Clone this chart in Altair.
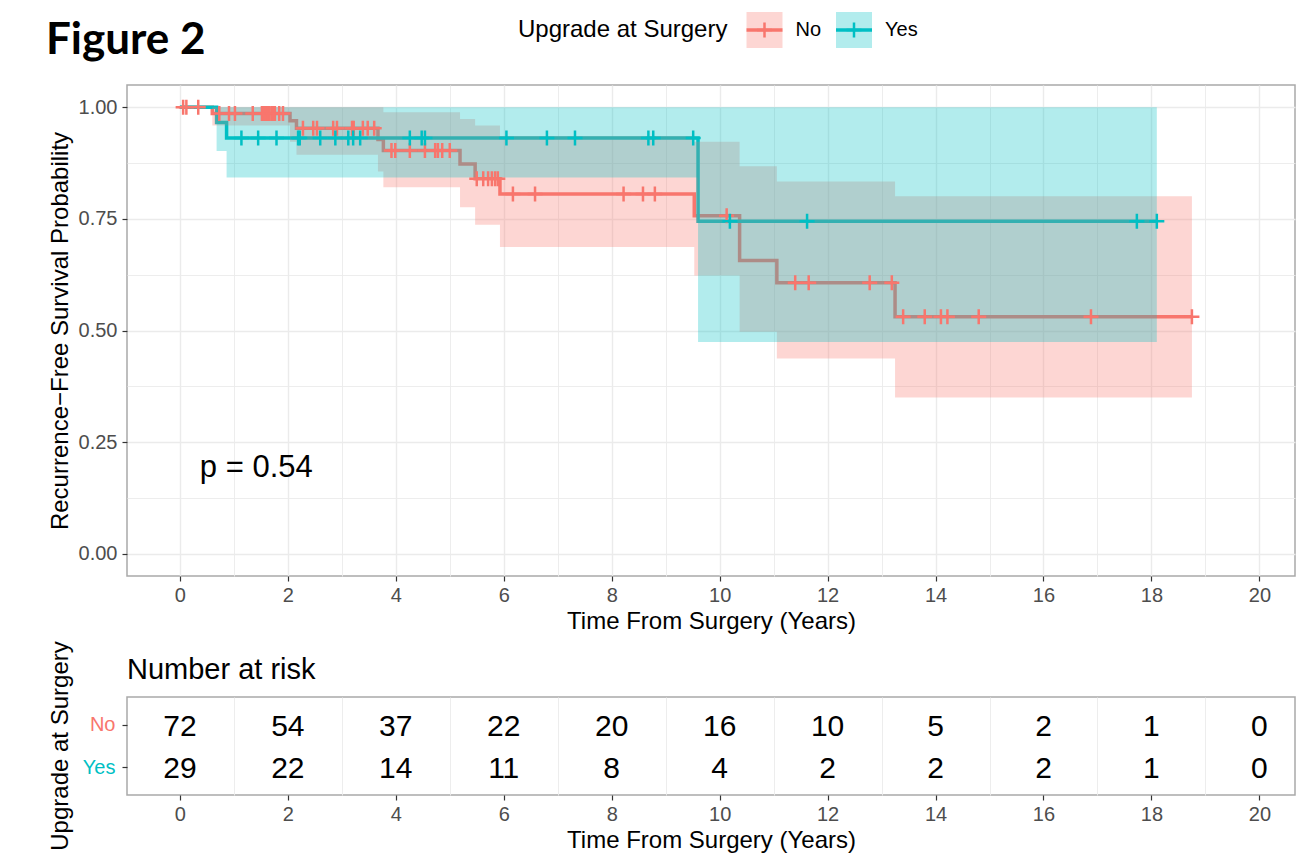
import altair as alt
import pandas as pd

RED = "#F8766D"
TEAL = "#00BFC4"
FONT = "Liberation Sans"

groups = ["No", "Yes"]

# Kaplan-Meier step curve and 95% band, group "No"
no_time = [0.0, 0.60, 2.04, 2.16, 3.67, 3.77, 5.19, 5.47, 5.93, 9.53, 10.37, 11.06, 13.25, 18.75]
no_surv = [1.000, 0.986, 0.970, 0.953, 0.928, 0.903, 0.873, 0.840, 0.806, 0.757, 0.657, 0.607, 0.531, 0.531]
no_lower = [1.000, 0.959, 0.923, 0.894, 0.856, 0.821, 0.776, 0.737, 0.687, 0.623, 0.497, 0.437, 0.350, 0.350]
no_upper = [1.000, 1.000, 1.000, 1.000, 1.000, 0.989, 0.974, 0.959, 0.936, 0.923, 0.868, 0.834, 0.801, 0.801]

# group "Yes"
yes_time = [0.0, 0.68, 0.865, 9.60, 18.10]
yes_surv = [1.000, 0.966, 0.931, 0.745, 0.745]
yes_lower = [1.000, 0.902, 0.843, 0.474, 0.474]
yes_upper = [1.000, 1.000, 1.000, 1.000, 1.000]

# censoring times
no_censor = [0.06, 0.12, 0.34, 0.73, 0.91, 1.02, 1.35, 1.52, 1.56, 1.60, 1.63, 1.66, 1.70,
             1.73, 1.76, 1.84, 1.91, 2.28, 2.47, 2.54, 2.84, 2.91, 3.19, 3.22, 3.39, 3.48,
             3.60, 3.92, 3.99, 4.26, 4.54, 4.73, 4.78, 4.86, 5.00, 5.50, 5.62, 5.71, 5.78,
             5.84, 5.89, 6.17, 6.58, 8.22, 8.58, 8.80, 10.13, 11.40, 11.65, 12.78, 13.19,
             13.40, 13.80, 14.10, 14.22, 14.80, 16.88, 18.75]
yes_censor = [1.14, 1.45, 1.79, 2.19, 2.22, 2.60, 2.88, 3.12, 3.21, 3.34, 4.26, 4.48, 4.54,
              6.05, 6.80, 7.32, 8.68, 8.77, 9.51, 10.19, 11.62, 17.73, 18.10]

# number at risk table
risk_time = [0, 2, 4, 6, 8, 10, 12, 14, 16, 18, 20]
risk_no = [72, 54, 37, 22, 20, 16, 10, 5, 2, 1, 0]
risk_yes = [29, 22, 14, 11, 8, 4, 2, 2, 2, 1, 0]

p_label = "p = 0.54"
figure_title = "Figure 2"
legend_title = "Upgrade at Surgery"
risk_title = "Number at risk"
x_title = "Time From Surgery (Years)"
y_title = "Recurrence\u2212Free Survival Probability"


def value_at(times, values, t):
    v = values[0]
    for ti, vi in zip(times, values):
        if ti <= t + 1e-9:
            v = vi
    return v


curves = pd.concat([
    pd.DataFrame({"group": "No", "t": no_time, "surv": no_surv, "lower": no_lower, "upper": no_upper}),
    pd.DataFrame({"group": "Yes", "t": yes_time, "surv": yes_surv, "lower": yes_lower, "upper": yes_upper}),
], ignore_index=True)

censors = pd.concat([
    pd.DataFrame({"group": "No", "t": no_censor,
                  "surv": [value_at(no_time, no_surv, t) for t in no_censor]}),
    pd.DataFrame({"group": "Yes", "t": yes_censor,
                  "surv": [value_at(yes_time, yes_surv, t) for t in yes_censor]}),
], ignore_index=True)

risk = pd.concat([
    pd.DataFrame({"group": "No", "t": risk_time, "n": risk_no}),
    pd.DataFrame({"group": "Yes", "t": risk_time, "n": risk_yes}),
], ignore_index=True)

xscale = alt.Scale(domain=[-0.98, 20.66], nice=False, zero=False)
yscale = alt.Scale(domain=[-0.05, 1.05], nice=False, zero=False)
cscale = alt.Scale(domain=groups, range=[RED, TEAL])

even = "datum.value % 2 == 0"
quarter = "(datum.value * 4) % 1 == 0"

x_axis_main = alt.Axis(
    values=list(range(21)),
    labelExpr=f"{even} ? datum.label : ''",
    tickOpacity={"condition": {"test": even, "value": 1}, "value": 0},
    gridWidth={"condition": {"test": even, "value": 1.4}, "value": 0.9},
    labelPadding=4, titlePadding=4,
)
y_axis_main = alt.Axis(
    values=[i / 8 for i in range(9)],
    labelExpr=f"{quarter} ? format(datum.value, '.2f') : ''",
    tickOpacity={"condition": {"test": quarter, "value": 1}, "value": 0},
    gridWidth={"condition": {"test": quarter, "value": 1.4}, "value": 0.9},
    labelPadding=5, titlePadding=6,
)

X = alt.X("t:Q", scale=xscale, axis=x_axis_main, title=x_title)
Y = alt.Y("surv:Q", scale=yscale, axis=y_axis_main, title=y_title)
C = alt.Color("group:N", scale=cscale, legend=None)

plus = "M-1,0L1,0M0,-1L0,1"

lines = alt.Chart(curves).mark_line(interpolate="step-after", strokeWidth=3.5).encode(x=X, y=Y, color=C)
bands = alt.Chart(curves).mark_area(interpolate="step-after", opacity=0.3).encode(
    x=X, y=alt.Y("lower:Q", scale=yscale), y2="upper:Q", color=C)
marks = alt.Chart(censors).mark_point(shape=plus, size=225, filled=False, strokeWidth=2.5, opacity=1).encode(
    x=X, y=Y, color=C)

ptext = alt.Chart(pd.DataFrame({"label": [p_label]})).mark_text(
    align="left", baseline="middle", fontSize=31, font=FONT, color="black").encode(
    x=alt.datum(0.37, scale=xscale), y=alt.datum(0.192, scale=yscale), text="label:N")

# header: figure title and legend (placed above the plot area)
hdr_y = -55
title_mark = alt.Chart(pd.DataFrame({"label": [figure_title]})).mark_text(
    align="left", baseline="alphabetic", fontSize=44, font="Lato", fontWeight="bold", color="black").encode(
    x=alt.value(-81), y=alt.value(-31), text="label:N")
leg_title = alt.Chart(pd.DataFrame({"label": [legend_title]})).mark_text(
    align="left", baseline="middle", fontSize=24, font=FONT, color="black").encode(
    x=alt.value(391), y=alt.value(hdr_y), text="label:N")

legend_layers = []
for grp, col, cx in [("No", RED, 637.5), ("Yes", TEAL, 727)]:
    one = pd.DataFrame({"label": [grp]})
    legend_layers += [
        alt.Chart(one).mark_square(size=1296, color=col, opacity=0.3).encode(
            x=alt.value(cx), y=alt.value(hdr_y)),
        alt.Chart(one).mark_rule(color=col, strokeWidth=3.5).encode(
            x=alt.value(cx - 18), x2=alt.value(cx + 18), y=alt.value(hdr_y)),
        alt.Chart(one).mark_point(shape=plus, size=225, filled=False, strokeWidth=2.5,
                                  color=col, opacity=1).encode(x=alt.value(cx), y=alt.value(hdr_y)),
        alt.Chart(one).mark_text(align="left", baseline="middle", fontSize=20, font=FONT,
                                 color="black").encode(x=alt.value(cx + 31), y=alt.value(hdr_y),
                                                       text="label:N"),
    ]

main = alt.layer(lines, bands, marks, ptext, title_mark, leg_title, *legend_layers).properties(
    width=1168, height=491)

# risk table
x_axis_risk = alt.Axis(
    values=list(range(21)),
    labelExpr=f"{even} ? datum.label : ''",
    tickOpacity={"condition": {"test": even, "value": 1}, "value": 0},
    gridOpacity={"condition": {"test": even, "value": 0}, "value": 1},
    gridWidth=0.9, labelPadding=4, titlePadding=4,
)
y_axis_risk = alt.Axis(
    labelColor={"condition": {"test": "datum.value == 'No'", "value": RED}, "value": TEAL},
    labelPadding=7, gridWidth=1.4, title=None,
)
risk_text = alt.Chart(risk).mark_text(fontSize=30, font=FONT, color="black", baseline="middle", dy=2).encode(
    x=alt.X("t:Q", scale=xscale, axis=x_axis_risk, title=x_title),
    y=alt.Y("group:N", scale=alt.Scale(type="point", domain=groups, padding=0.65), axis=y_axis_risk),
    text="n:Q",
)
risk_head = alt.Chart(pd.DataFrame({"label": [risk_title]})).mark_text(
    align="left", baseline="middle", fontSize=29, font=FONT, color="black").encode(
    x=alt.value(0), y=alt.value(-27), text="label:N")
risk_ytitle = alt.Chart(pd.DataFrame({"label": [legend_title]})).mark_text(
    align="center", baseline="middle", angle=270, fontSize=24, font=FONT, color="black").encode(
    x=alt.value(-66), y=alt.value(49), text="label:N")

risk_chart = alt.layer(risk_text, risk_head, risk_ytitle).properties(width=1168, height=98)

chart = alt.vconcat(main, risk_chart, spacing=6).properties(
    padding={"left": 37, "top": 3, "right": 0, "bottom": 0}
).configure_view(
    stroke="#A9A9A9", strokeWidth=1.5
).configure_axis(
    domain=False, labelFont=FONT, labelFontSize=20, labelColor="#4D4D4D",
    tickColor="#333333", tickSize=5, tickWidth=1.2,
    titleFont=FONT, titleFontSize=24, titleFontWeight="normal", titleColor="black",
    gridColor="#EBEBEB",
)

chart.save("out.html", embed_options={"renderer": "svg", "actions": False})
